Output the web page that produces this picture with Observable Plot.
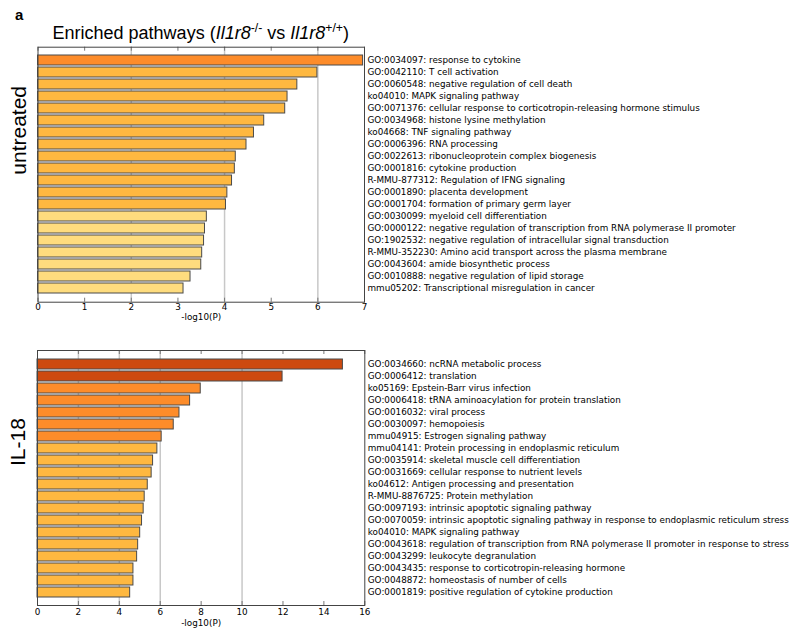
<!DOCTYPE html>
<html>
<head>
<meta charset="utf-8">
<script src="https://cdn.jsdelivr.net/npm/d3@7"></script>
<script src="https://cdn.jsdelivr.net/npm/@observablehq/plot@0.6"></script>
<style>
  body { margin: 0; background: #fff; }
  #wrap { position: relative; width: 800px; height: 641px; overflow: hidden; font-family: "Liberation Sans", Arial, sans-serif; }
  #wrap svg { position: absolute; left: 0; }
  .panel { position: absolute; left: 15px; top: 7px; font-size: 15px; font-weight: bold; line-height: 15px; }
  .title { position: absolute; left: 37.5px; width: 326.5px; top: 24px; text-align: center; font-size: 18px; line-height: 18px; white-space: nowrap; }
  .title sup { font-size: 0.68em; line-height: 0; vertical-align: 0.55em; }
</style>
</head>
<body>
<div id="wrap"></div>
<script>
// ---- data: untreated ----
const topLabels = [
  "GO:0034097: response to cytokine",
  "GO:0042110: T cell activation",
  "GO:0060548: negative regulation of cell death",
  "ko04010: MAPK signaling pathway",
  "GO:0071376: cellular response to corticotropin-releasing hormone stimulus",
  "GO:0034968: histone lysine methylation",
  "ko04668: TNF signaling pathway",
  "GO:0006396: RNA processing",
  "GO:0022613: ribonucleoprotein complex biogenesis",
  "GO:0001816: cytokine production",
  "R-MMU-877312: Regulation of IFNG signaling",
  "GO:0001890: placenta development",
  "GO:0001704: formation of primary germ layer",
  "GO:0030099: myeloid cell differentiation",
  "GO:0000122: negative regulation of transcription from RNA polymerase II promoter",
  "GO:1902532: negative regulation of intracellular signal transduction",
  "R-MMU-352230: Amino acid transport across the plasma membrane",
  "GO:0043604: amide biosynthetic process",
  "GO:0010888: negative regulation of lipid storage",
  "mmu05202: Transcriptional misregulation in cancer"
];
const topValues = [6.97, 5.99, 5.56, 5.35, 5.30, 4.85, 4.63, 4.47, 4.24, 4.22,
                   4.16, 4.06, 4.03, 3.62, 3.58, 3.56, 3.52, 3.50, 3.27, 3.12];
const topTier = [1, 2, 2, 2, 2, 2, 2, 2, 2, 2, 2, 2, 2, 3, 3, 3, 3, 3, 3, 3];
const topTicks = [0, 1, 2, 3, 4, 5, 6, 7];
const topGrid = [2, 4, 6];

// ---- data: IL-18 ----
const botLabels = [
  "GO:0034660: ncRNA metabolic process",
  "GO:0006412: translation",
  "ko05169: Epstein-Barr virus infection",
  "GO:0006418: tRNA aminoacylation for protein translation",
  "GO:0016032: viral process",
  "GO:0030097: hemopoiesis",
  "mmu04915: Estrogen signaling pathway",
  "mmu04141: Protein processing in endoplasmic reticulum",
  "GO:0035914: skeletal muscle cell differentiation",
  "GO:0031669: cellular response to nutrient levels",
  "ko04612: Antigen processing and presentation",
  "R-MMU-8876725: Protein methylation",
  "GO:0097193: intrinsic apoptotic signaling pathway",
  "GO:0070059: intrinsic apoptotic signaling pathway in response to endoplasmic reticulum stress",
  "ko04010: MAPK signaling pathway",
  "GO:0043618: regulation of transcription from RNA polymerase II promoter in response to stress",
  "GO:0043299: leukocyte degranulation",
  "GO:0043435: response to corticotropin-releasing hormone",
  "GO:0048872: homeostasis of number of cells",
  "GO:0001819: positive regulation of cytokine production"
];
const botValues = [14.93, 11.98, 7.98, 7.46, 6.94, 6.66, 6.07, 5.86, 5.65, 5.58,
                   5.39, 5.24, 5.19, 5.11, 5.02, 4.92, 4.87, 4.69, 4.69, 4.53];
const botTier = [0, 0, 1, 1, 1, 1, 1, 2, 2, 2, 2, 2, 2, 2, 2, 2, 2, 2, 2, 2];
const botTicks = [0, 2, 4, 6, 8, 10, 12, 14, 16];
const botGrid = [2, 4, 6, 10];

// ---- styling ----
const palette = ["#cd4a0f", "#fd8c2a", "#feb840", "#fedc7e"];

function chart({labels, values, tiers, ticks, grid, height, mt, mb, ml, mr, side, sideDy, tickPad, labelDy}) {
  const data = labels.map((label, i) => ({label, value: values[i], tier: tiers[i]}));
  const frameH = height - mt - mb;
  const xMax = ticks[ticks.length - 1];
  return Plot.plot({
    width: 800, height,
    marginTop: mt, marginBottom: mb, marginLeft: ml, marginRight: mr,
    style: {fontFamily: "'DejaVu Sans', sans-serif", fontSize: "8.8px", background: "none", color: "#000"},
    x: {domain: [0, xMax]},
    y: {domain: labels, paddingInner: 0.2, paddingOuter: 0.635},
    color: {type: "identity"},
    marks: [
      Plot.ruleX(grid, {stroke: "#c8c8c8", strokeWidth: 1.5}),
      Plot.barX(data, {x: "value", y: "label", fill: d => palette[d.tier], stroke: "#4a4a4a", strokeWidth: 1}),
      Plot.tickX(ticks, {x: d => d, insetBottom: frameH - 4, stroke: "#777"}),
      Plot.tickX(ticks, {x: d => d, insetTop: frameH - 4, stroke: "#777"}),
      Plot.frame({stroke: "#444"}),
      Plot.axisX(ticks, {tickSize: 0, tickPadding: tickPad, label: null}),
      Plot.axisY({anchor: "right", tickSize: 0, tickPadding: 3, label: null}),
      Plot.text(["-log10(P)"], {frameAnchor: "bottom", dy: labelDy, fontSize: 8.8}),
      Plot.text([side], {frameAnchor: "left", rotate: -90, dx: -19, dy: sideDy, fontSize: 21,
                         fontFamily: "'Liberation Sans', Arial, sans-serif"})
    ]
  });
}

const wrap = document.getElementById("wrap");

const top1 = chart({labels: topLabels, values: topValues, tiers: topTier, ticks: topTicks, grid: topGrid,
  height: 330, mt: 46.7, mb: 28.3, ml: 37.5, mr: 436, side: "untreated", sideDy: 0, tickPad: 2, labelDy: 17.5});
top1.style.top = "0px";
wrap.appendChild(top1);

const bot = chart({labels: botLabels, values: botValues, tiers: botTier, ticks: botTicks, grid: botGrid,
  height: 311, mt: 20, mb: 36, ml: 37, mr: 435.7, side: "IL-18", sideDy: -12, tickPad: 3, labelDy: 20});
bot.style.top = "330px";
wrap.appendChild(bot);

const a = document.createElement("div");
a.className = "panel";
a.textContent = "a";
wrap.appendChild(a);

const t = document.createElement("div");
t.className = "title";
t.innerHTML = "Enriched pathways (<i>Il1r8</i><sup>-/-</sup> vs <i>Il1r8</i><sup>+/+</sup>)";
wrap.appendChild(t);
</script>
</body>
</html>
